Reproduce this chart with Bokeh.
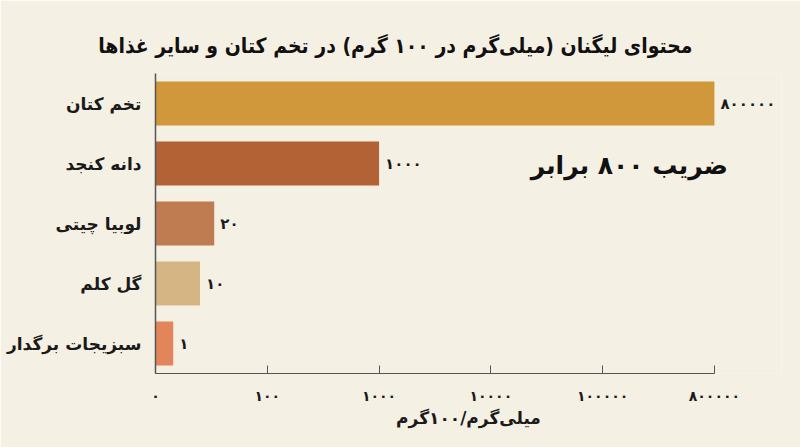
import math
from bokeh.plotting import figure
from bokeh.models import ColumnDataSource, FixedTicker, Title, FactorRange, Range1d
from bokeh.core.properties import value
from bokeh.embed import file_html
from bokeh.resources import INLINE

# ---- data ----
foods = ["تخم کتان", "دانه کنجد", "لوبیا چیتی", "گل کلم", "سبزیجات برگدار"]
lignan = [800000, 1000, 20, 10, 1]
colors = ["#D0983A", "#B26234", "#BE7C50", "#D5B584", "#E3855A"]
tick_values = [0, 100, 1000, 10000, 100000, 800000]
title_text = "محتوای لیگنان (میلی‌گرم در ۱۰۰ گرم) در تخم کتان و سایر غذاها"
axis_label = "میلی‌گرم/۱۰۰گرم"
note_text = "ضریب ۸۰۰ برابر"

FA_DIGITS = str.maketrans("0123456789", "۰۱۲۳۴۵۶۷۸۹")


def fa(n):
    return str(n).translate(FA_DIGITS)


def pos(v):
    """Custom scale: evenly spaced ticks, power scale below 100, log between ticks above."""
    if v <= tick_values[1]:
        return (v / tick_values[1]) ** 0.4
    for i in range(1, len(tick_values) - 1):
        a, b = tick_values[i], tick_values[i + 1]
        if v <= b:
            return i + math.log10(v / a) / math.log10(b / a)
    return len(tick_values) - 1


FONT = "DejaVu Sans"
TFONT = "DejaVu Sans Condensed"
BG = "#F5F0E4"

src = ColumnDataSource(dict(
    food=foods,
    x=[pos(v) for v in lignan],
    label=[fa(v) for v in lignan],
    color=colors,
))

p = figure(
    width=800, height=447,
    y_range=FactorRange(*reversed(foods), range_padding=0),
    x_range=Range1d(0, 5.6),
    output_backend="svg", toolbar_location=None,
    min_border_left=155, min_border_right=19, min_border_top=73, min_border_bottom=74,
    background_fill_color=BG, border_fill_color=BG,
    outline_line_color=None,
)

p.hbar(y="food", left=0, right="x", height=0.73, fill_color="color",
       line_color=None, source=src)

p.text(x="x", y="food", text="label", source=src, x_offset=6,
       text_align="left", text_baseline="middle",
       text_font=value(FONT), text_font_style="bold",
       text_font_size="15px", text_color="#1a1a1a")

note_src = ColumnDataSource(dict(x=[5.12], y=[foods[1]], t=[note_text]))
p.text(x="x", y="y", text="t", source=note_src, text_align="right",
       text_baseline="middle", y_offset=2,
       text_font=value(FONT), text_font_style="bold",
       text_font_size="25px", text_color="#111111")

p.grid.visible = False

xa = p.xaxis[0]
xa.ticker = FixedTicker(ticks=[pos(v) for v in tick_values])
xa.major_label_overrides = {pos(v): fa(v) for v in tick_values}
xa.major_tick_in = 8
xa.major_tick_out = 0
xa.minor_tick_line_color = None
xa.axis_line_color = "#555555"
xa.major_tick_line_color = "#555555"
xa.major_label_text_font = FONT
xa.major_label_text_font_size = "14px"
xa.major_label_text_font_style = "bold"
xa.major_label_text_color = "#1a1a1a"
xa.major_label_standoff = 14
xa.axis_label = axis_label
xa.axis_label_text_font = FONT
xa.axis_label_text_font_size = "17px"
xa.axis_label_text_font_style = "bold"
xa.axis_label_text_color = "#1a1a1a"
xa.axis_label_standoff = 1
xa.bounds = (0, pos(tick_values[-1]))

ya = p.yaxis[0]
ya.major_tick_line_color = None
ya.minor_tick_line_color = None
ya.axis_line_color = "#555555"
ya.axis_line_width = 1.5
ya.major_label_text_font = FONT
ya.major_label_text_font_size = "17px"
ya.major_label_text_font_style = "bold"
ya.major_label_text_color = "#1a1a1a"
ya.major_label_standoff = 8

p.add_layout(Title(text=title_text, align="right", offset=89, standoff=32,
                   text_font=TFONT, text_font_size="21px", text_font_style="bold",
                   text_color="#111111"), "above")

open("out.html", "w").write(file_html(p, INLINE))
